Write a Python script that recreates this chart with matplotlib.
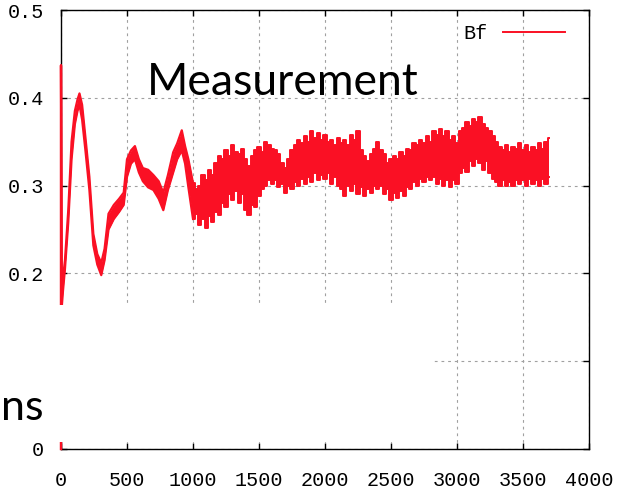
import matplotlib
matplotlib.use('Agg')
import matplotlib.pyplot as plt
from matplotlib.patches import Rectangle

t = [0, 0, 5, 15, 30, 55, 80, 105, 125, 140, 160, 185, 215, 245, 275, 305, 330,
     360, 400, 440, 475, 500, 530, 560, 590, 620, 660, 700, 740, 775, 810, 850,
     880, 915, 940, 965,
     1000, 1025, 1050, 1075, 1100, 1125, 1150, 1175, 1200, 1225, 1250, 1275,
     1300, 1325, 1350, 1375, 1400, 1425, 1450, 1475, 1500, 1525, 1550, 1575,
     1600, 1625, 1650, 1675, 1700, 1725, 1750, 1775, 1800, 1825, 1850, 1875,
     1900, 1925, 1950, 1975, 2000, 2025, 2050, 2075, 2100, 2125, 2150, 2175,
     2200, 2225, 2250, 2275, 2300, 2325, 2350, 2375, 2400, 2425, 2450, 2475,
     2500, 2525, 2550, 2575, 2600, 2625, 2650, 2675, 2700, 2725, 2750, 2775,
     2800, 2825, 2850, 2875, 2900, 2925, 2950, 2975, 3000, 3025, 3050, 3075,
     3100, 3125, 3150, 3175, 3200, 3225, 3250, 3275, 3300, 3325, 3350, 3375,
     3400, 3425, 3450, 3475, 3500, 3525, 3550, 3575, 3600, 3625, 3650, 3675,
     3700]
bf_low = [0.000, 0.437, 0.160, 0.180, 0.205, 0.258, 0.330, 0.370, 0.385, 0.392,
          0.375, 0.340, 0.295, 0.232, 0.210, 0.198, 0.215, 0.250, 0.262, 0.270,
          0.278, 0.310, 0.325, 0.330, 0.315, 0.305, 0.298, 0.295, 0.285, 0.272,
          0.295, 0.315, 0.330, 0.340, 0.325, 0.298,
          0.262, 0.268, 0.255, 0.262, 0.252, 0.265, 0.258, 0.270, 0.266, 0.280,
          0.276, 0.290, 0.284, 0.294, 0.280, 0.290, 0.272, 0.266, 0.278, 0.276,
          0.288, 0.296, 0.300, 0.306, 0.302, 0.306, 0.298, 0.302, 0.292, 0.300,
          0.296, 0.304, 0.300, 0.308, 0.302, 0.310, 0.304, 0.314, 0.306, 0.312,
          0.308, 0.314, 0.302, 0.310, 0.300, 0.296, 0.288, 0.300, 0.294, 0.302,
          0.290, 0.298, 0.288, 0.296, 0.292, 0.300, 0.296, 0.300, 0.290, 0.296,
          0.284, 0.292, 0.286, 0.294, 0.288, 0.298, 0.296, 0.304, 0.300, 0.308,
          0.304, 0.310, 0.306, 0.310, 0.302, 0.308, 0.300, 0.306, 0.298, 0.306,
          0.302, 0.314, 0.320, 0.316, 0.328, 0.322, 0.330, 0.326, 0.318, 0.328,
          0.314, 0.308, 0.304, 0.300, 0.306, 0.300, 0.304, 0.300, 0.306, 0.302,
          0.306, 0.300, 0.308, 0.302, 0.306, 0.300, 0.308, 0.302, 0.310]
bf_high = [0.000, 0.437, 0.170, 0.195, 0.215, 0.272, 0.350, 0.385, 0.398, 0.405,
           0.392, 0.355, 0.310, 0.245, 0.222, 0.212, 0.228, 0.268, 0.278, 0.285,
           0.292, 0.330, 0.340, 0.345, 0.330, 0.320, 0.318, 0.312, 0.305, 0.292,
           0.312, 0.338, 0.348, 0.363, 0.345, 0.330,
           0.303, 0.296, 0.300, 0.312, 0.306, 0.318, 0.312, 0.326, 0.334, 0.330,
           0.340, 0.334, 0.346, 0.338, 0.336, 0.342, 0.330, 0.322, 0.334, 0.340,
           0.344, 0.338, 0.350, 0.346, 0.342, 0.340, 0.336, 0.326, 0.320, 0.330,
           0.340, 0.346, 0.352, 0.348, 0.356, 0.350, 0.362, 0.354, 0.360, 0.352,
           0.358, 0.350, 0.352, 0.346, 0.354, 0.348, 0.352, 0.346, 0.358, 0.352,
           0.362, 0.340, 0.334, 0.328, 0.336, 0.342, 0.350, 0.340, 0.336, 0.326,
           0.330, 0.334, 0.330, 0.338, 0.334, 0.342, 0.340, 0.348, 0.346, 0.352,
           0.348, 0.356, 0.350, 0.362, 0.358, 0.364, 0.356, 0.362, 0.352, 0.356,
           0.348, 0.362, 0.366, 0.372, 0.368, 0.376, 0.372, 0.378, 0.370, 0.366,
           0.362, 0.356, 0.350, 0.344, 0.340, 0.346, 0.338, 0.344, 0.342, 0.348,
           0.340, 0.346, 0.338, 0.344, 0.340, 0.348, 0.342, 0.350, 0.354]

xticks = [0, 500, 1000, 1500, 2000, 2500, 3000, 3500, 4000]
xtick_labels = ['0', '500', '1000', '1500', '2000', '2500', '3000', '3500', '4000']
yticks = [0, 0.1, 0.2, 0.3, 0.4, 0.5]
ytick_labels = ['0', '0.1', '0.2', '0.3', '0.4', '0.5']

W, H = 618, 496
red = '#fa1024'
mono = 'Liberation Mono'
n_early = 37  # bis t = 1000 glatte Kurve, danach verrauschtes Band

fig = plt.figure(figsize=(W / 100, H / 100), dpi=100)
ax = fig.add_axes([61 / W, (H - 449) / H, 528 / W, 439 / H])

# Einschwingphase
te, le, he = t[:n_early], bf_low[:n_early], bf_high[:n_early]
ax.fill_between(te, le, he, color=red, lw=0, zorder=3)
ax.plot(te, le, color=red, lw=1.6, zorder=3, clip_on=False)
ax.plot(te, he, color=red, lw=1.6, zorder=3, clip_on=False)

# Rauschband
tl, ll, hl = t[n_early - 1:], bf_low[n_early - 1:], bf_high[n_early - 1:]
ax.fill_between(tl, ll, hl, color=red, lw=0, step='mid', zorder=3)
ax.plot(tl, ll, color=red, lw=1.4, drawstyle='steps-mid', zorder=3)
ax.plot(tl, hl, color=red, lw=1.4, drawstyle='steps-mid', zorder=3, label='Bf')

ax.set_xlim(0, 4000)
ax.set_ylim(0, 0.5)
ax.set_xticks(xticks)
ax.set_xticklabels(xtick_labels, fontfamily=mono, fontsize=14.5)
ax.set_yticks(yticks)
ax.set_yticklabels(ytick_labels, fontfamily=mono, fontsize=14.5)
ax.tick_params(direction='in', length=4.5, width=1, top=True, right=True)
ax.tick_params(axis='x', pad=16)
ax.tick_params(axis='y', pad=12)
for s in ax.spines.values():
    s.set_linewidth(1.0)
    s.set_zorder(2)
ax.grid(True, color='#a0a0a0', lw=0.8, linestyle=(0, (2.5, 3.5)), zorder=1)
ax.set_axisbelow(True)

leg = ax.legend(loc='upper right', bbox_to_anchor=((565 - 61) / 528, 1 - 14 / 439),
                frameon=False, markerfirst=False, borderpad=0, borderaxespad=0,
                handlelength=3.1, handletextpad=0.75, prop={'family': mono, 'size': 14.5})

fig.text(147 / W, 1 - 95 / H, 'Measurement', fontfamily='Lato', fontsize=32,
         ha='left', va='baseline', zorder=12)

# weisses Feld, das einen Teil des Diagramms verdeckt
fig.add_artist(Rectangle((0, (H - 442) / H), 432 / W, 137 / H, transform=fig.transFigure,
                         facecolor='white', edgecolor='none', zorder=10))
fig.text(1 / W, 1 - 420 / H, 'ns', fontfamily='Lato', fontsize=31,
         ha='left', va='baseline', zorder=12)

fig.savefig('out.png', dpi=100)
